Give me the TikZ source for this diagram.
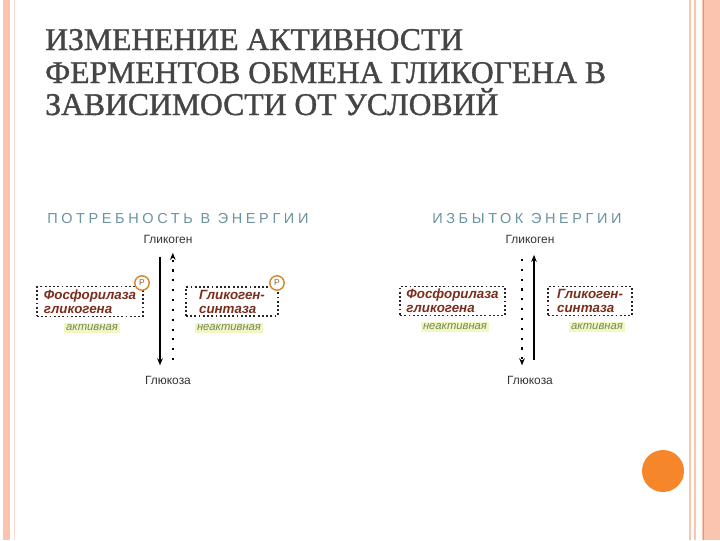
\documentclass[tikz,border=0pt]{standalone}
\usepackage{fontspec}
\setmainfont{Liberation Serif}
\setsansfont{Liberation Sans}
\newfontfamily\headfont{Liberation Sans}[LetterSpace=25]
\newfontfamily\titlefont{Liberation Serif}[FakeBold=1.2]
\usetikzlibrary{arrows.meta}

\definecolor{stripe}{HTML}{FAC4AF}
\definecolor{stripeline}{HTML}{F0906E}
\definecolor{titlegrey}{HTML}{454545}
\definecolor{headteal}{HTML}{6A93A0}
\definecolor{enzred}{HTML}{7A2E1E}
\definecolor{porange}{HTML}{D9862B}
\definecolor{hlyellow}{HTML}{F3F5C2}
\definecolor{stategreen}{HTML}{6E8B5A}
\definecolor{dotorange}{HTML}{F5862A}

\begin{document}
\begin{tikzpicture}[x=0.025cm, y=-0.025cm, >=Stealth,
    titleline/.style={anchor=base west, inner sep=0pt, text=titlegrey,
        font=\titlefont\fontsize{22.5}{24}\selectfont},
    headline/.style={anchor=base west, inner sep=0pt, text=headteal,
        font=\headfont\fontsize{10.3}{12}\selectfont},
    metab/.style={inner sep=1pt, text=black!80, font=\sffamily\fontsize{8.5}{10}\selectfont},
    enzbox/.style={draw=black!85, line width=1pt, dash pattern=on 1.3pt off 1.7pt,
        align=left, inner sep=2pt, minimum height=0.72cm, text=enzred,
        font=\sffamily\bfseries\itshape\fontsize{9.5}{10}\selectfont},
    statelbl/.style={fill=hlyellow, inner sep=1.5pt, text=stategreen,
        font=\sffamily\itshape\fontsize{8}{9}\selectfont},
    pmark/.style={circle, draw=porange, fill=white, line width=1pt, inner sep=0pt,
        minimum size=0.36cm, text=porange!70!black, font=\sffamily\fontsize{6}{6}\selectfont},
    flow/.style={->, line width=1.1pt, >={Stealth[length=5pt,width=4pt]}},
    flowdot/.style={flow, dash pattern=on 1.5pt off 5.5pt}]

    \useasboundingbox (0,0) rectangle (720,540);
    % Frame
    \fill[white] (0,0) rectangle (720,540);
    \fill[stripe] (3,0) rectangle (10,540);
    \draw[stripe!60, line width=0.6pt] (14,0) -- (14,540);
    \draw[stripe, line width=0.8pt] (690,0) -- (690,540);
    \draw[stripe, line width=0.8pt] (695,0) -- (695,540);
    \fill[stripe] (702,0) rectangle (720,540);
    \draw[stripeline, line width=0.6pt] (703,0) -- (703,540);
    \fill[dotorange] (663,471) circle (21);

    % Title
    \node[titleline] (title1) at (45,50) {ИЗМЕНЕНИЕ АКТИВНОСТИ};
    \node[titleline] (title2) at (45,83) {ФЕРМЕНТОВ ОБМЕНА ГЛИКОГЕНА В};
    \node[titleline] (title3) at (45,115) {ЗАВИСИМОСТИ ОТ УСЛОВИЙ};

    % Energy demand
    \node[headline] (headL) at (47,223) {ПОТРЕБНОСТЬ В ЭНЕРГИИ};
    \node[metab] (glykL) at (168,239) {Гликоген};
    \node[metab] (glucL) at (168,380) {Глюкоза};
    \draw[flow] ([xshift=-0.2cm,yshift=-0.3cm]glykL.south) -- ([xshift=-0.2cm,yshift=0.22cm]glucL.north);
    \draw[flowdot] ([xshift=0.12cm,yshift=0.35cm]glucL.north) -- ([xshift=0.12cm,yshift=-0.2cm]glykL.south);

    \node[enzbox, minimum width=2.65cm] (phosL) at (90,301.5) {Фосфорилаза\\гликогена};
    \node[statelbl] (stateL1) at (92,328) {активная};
    \node[pmark] (pL1) at (142,283) {P};

    \node[enzbox, minimum width=2.3cm] (synL) at (232,301.5) {Гликоген-\\синтаза};
    \node[statelbl] (stateL2) at (229,328) {неактивная};
    \node[pmark] (pL2) at (277,283) {P};

    % Energy excess
    \node[headline] (headR) at (432,223) {ИЗБЫТОК ЭНЕРГИИ};
    \node[metab] (glykR) at (530,239) {Гликоген};
    \node[metab] (glucR) at (530,380) {Глюкоза};
    \draw[flowdot] ([xshift=-0.2cm,yshift=-0.35cm]glykR.south) -- ([xshift=-0.2cm,yshift=0.22cm]glucR.north);
    \draw[flow] ([xshift=0.1cm,yshift=0.35cm]glucR.north) -- ([xshift=0.1cm,yshift=-0.25cm]glykR.south);

    \node[enzbox, minimum width=2.62cm] (phosR) at (452.5,301) {Фосфорилаза\\гликогена};
    \node[statelbl] (stateR1) at (455,327) {неактивная};

    \node[enzbox, minimum width=2.1cm] (synR) at (590,301) {Гликоген-\\синтаза};
    \node[statelbl] (stateR2) at (597,327) {активная};
\end{tikzpicture}
\end{document}
